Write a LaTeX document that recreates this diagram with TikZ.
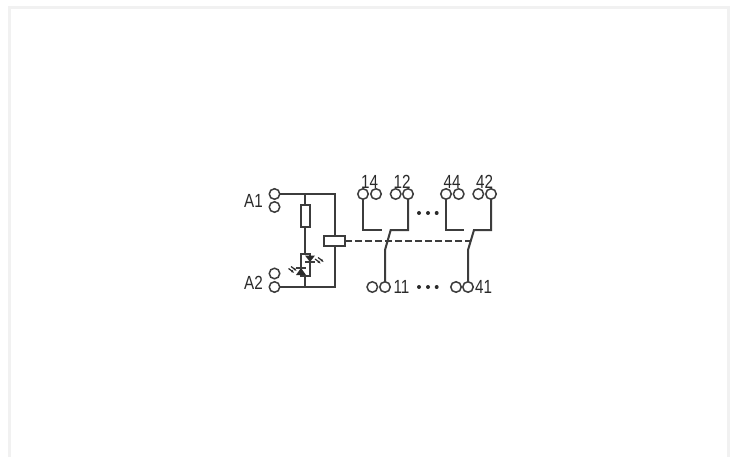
\documentclass[tikz,border=0pt]{standalone}
\usepackage{fontspec}
\setmainfont{Liberation Sans}
\definecolor{ink}{HTML}{2A2A2A}
\definecolor{wirecol}{HTML}{3C3C3C}
\definecolor{framecol}{HTML}{F1F1F1}
\tikzset{
  wire/.style={draw=wirecol,line width=2pt},
  term/.style={circle,draw=wirecol,line width=1.5pt,fill=white,minimum size=10.5pt,inner sep=0pt,outer sep=0pt},
  box/.style={rectangle,draw=wirecol,line width=2pt,fill=white,inner sep=0pt,outer sep=0pt},
  lab/.style={font=\fontsize{19}{19}\selectfont,text=ink,inner sep=0pt,xscale=.8},
  dotm/.style={circle,fill=ink,minimum size=4pt,inner sep=0pt},
  ledtri/.style={fill=ink,draw=none},
  ray/.style={draw=ink,line width=1.2pt}
}
\begin{document}
\begin{tikzpicture}[x=1pt,y=-1pt]
\useasboundingbox (0,0) rectangle (736,457);
\fill[white] (0,0) rectangle (736,457);
\draw[framecol,line width=3pt] (9.5,457) -- (9.5,7.5) -- (728.5,7.5) -- (728.5,457);

% coordinates on the wiring
\coordinate (topj) at (305,194);
\coordinate (botj) at (305,287);
\coordinate (topc) at (335,194);
\coordinate (botc) at (335,287);

% wiring behind components
\node[term] (a1) at (274.5,194) {};
\node[term] (a1b) at (274.5,207) {};
\node[term] (a2a) at (274.5,273.5) {};
\node[term] (a2) at (274.5,287) {};
\draw[wire] (a1.east) -- (topc) -- (botc) -- (a2.east);

\node[box,minimum width=9pt,minimum height=21.5pt] (res) at (305,216) {};
\node[box,minimum width=9pt,minimum height=21.5pt] (led) at (305,265) {};
\node[box,minimum width=21.3pt,minimum height=10pt] (coil) at (334.5,240.5) {};
\draw[wire] (topj) -- (res.north);
\draw[wire] (res.south) -- (led.north);
\draw[wire] (led.south) -- (botj);

% LEDs
\fill[ledtri] (305,255.5) -- (315,255.5) -- (310,262) -- cycle;
\draw[wire] (305,262.3) -- (315,262.3);
\fill[ledtri] (296,275) -- (306,275) -- (301,268) -- cycle;
\draw[wire] (296,267.8) -- (306,267.8);
\draw[ray] (315,259) -- (319,262);
\draw[ray] (318,257.5) -- (322,260.5);
\fill[ink] (320.5,263.5) -- (317.5,262.5) -- (319,260.5) -- cycle;
\fill[ink] (323.5,262) -- (320.5,261) -- (322,259) -- cycle;
\draw[ray] (291,266.5) -- (295,269.5);
\draw[ray] (288.5,268.5) -- (292.5,271.5);
\fill[ink] (296.5,270.8) -- (293.5,270) -- (295,267.8) -- cycle;
\fill[ink] (294,272.8) -- (291,272) -- (292.5,269.8) -- cycle;

% contact terminals
\node[term] (t14) at (363,194) {};
\node[term] (t14b) at (376,194) {};
\node[term] (t12a) at (395.7,194) {};
\node[term] (t12) at (408,194) {};
\node[term] (t44) at (446,194) {};
\node[term] (t44b) at (458.7,194) {};
\node[term] (t42a) at (478.3,194) {};
\node[term] (t42) at (491,194) {};
\node[term] (t11a) at (372.3,287) {};
\node[term] (t11) at (385,287) {};
\node[term] (t41a) at (456,287) {};
\node[term] (t41) at (468,287) {};

% contact 1
\coordinate (c14) at (381.7,230);
\coordinate (c12) at (390.7,230);
\coordinate (k1) at (385,250);
\draw[wire] (t14.south) |- (c14);
\draw[wire] (t12.south) |- (c12) -- (k1) -- (t11.north);
% contact 4
\coordinate (c44) at (464,230);
\coordinate (c42) at (474,230);
\coordinate (k4) at (468,250);
\draw[wire] (t44.south) |- (c44);
\draw[wire] (t42.south) |- (c42) -- (k4) -- (t41.north);

% mechanical link
\coordinate (linkend) at (470.5,240.5);
\draw[wire,dash pattern=on 6.6pt off 3.4pt] (coil.east) -- (linkend);

% dots
\foreach \n/\x/\y in {u1/419/213,u2/428/213,u3/436.7/213,v1/419/287,v2/428/287,v3/436.7/287}
  \node[dotm] (\n) at (\x,\y) {};

% labels
\node[lab] (la1) at (253.5,200.5) {A1};
\node[lab] (la2) at (253.5,282.5) {A2};
\node[lab] (l14) at (369.5,182) {14};
\node[lab] (l12) at (402,182) {12};
\node[lab] (l44) at (452,182) {44};
\node[lab] (l42) at (484.5,182) {42};
\node[lab] (l11) at (401.5,287) {11};
\node[lab] (l41) at (483.5,287) {41};
\end{tikzpicture}
\end{document}
